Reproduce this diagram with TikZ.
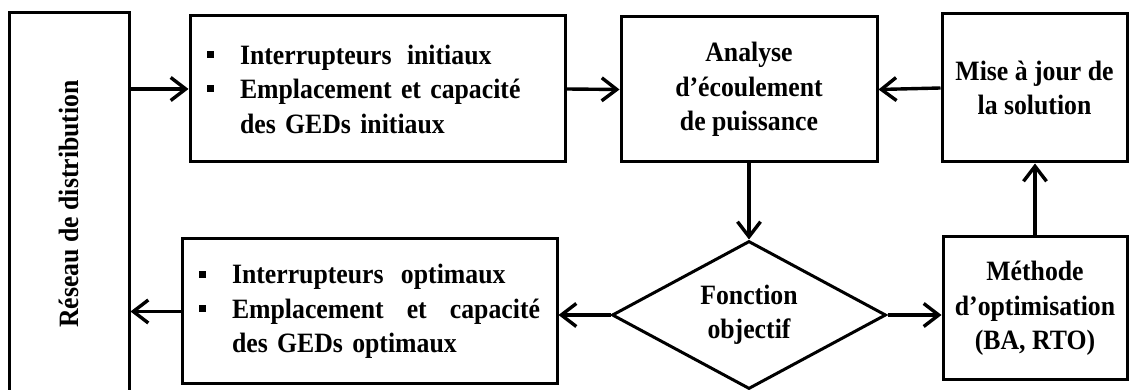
\documentclass[tikz,border=0pt]{standalone}
\usepackage{fontspec}
\setmainfont{Liberation Serif}[FakeStretch=0.92]
\usetikzlibrary{arrows.meta,shapes.geometric}

\newcommand{\sqbul}{\makebox[33pt][l]{\rule[0.22em]{7pt}{7pt}}}

\begin{document}
\begin{tikzpicture}[x=1pt,y=1pt,
  blk/.style={rectangle,draw,line width=3pt,inner sep=0pt,align=center,
              font=\bfseries\fontsize{28}{34.5}\selectfont},
  lst/.style={blk,align=left,inner xsep=17pt},
  dec/.style={diamond,draw,line width=3pt,inner sep=0pt,aspect=1.85,
              minimum width=274pt,minimum height=148pt,align=center,
              font=\bfseries\fontsize{28}{34.5}\selectfont},
  flow/.style={-{Straight Barb[length=15pt,width=23pt]},line width=3.4pt},
]
  \useasboundingbox (0,0) rectangle (1131,390);

  % Network (left column)
  \node[blk,minimum width=120pt,minimum height=382pt] (reseau) at (69,186)
    {\rotatebox{90}{Réseau de distribution}};

  % Top row
  \node[lst,minimum width=375pt,minimum height=146pt,text width=341pt]
    (init) at (377.5,301)
    {\sqbul Interrupteurs\hspace{6pt} initiaux\\
     \sqbul Emplacement et capacité\\
     \hspace*{33pt}des GEDs initiaux};
  \node[blk,minimum width=256pt,minimum height=145pt] (analyse) at (749,300.5)
    {Analyse\\d’écoulement\\de puissance};
  \node[blk,minimum width=185pt,minimum height=148pt] (mise) at (1034.5,302)
    {Mise à jour de\\la solution};

  % Bottom row
  \node[dec] (fonction) at (749,75) {Fonction\\objectif};
  \node[lst,minimum width=375pt,minimum height=145pt,text width=341pt]
    (optim) at (369.5,78.5)
    {\sqbul Interrupteurs\hspace{8pt} optimaux\\
     \sqbul \makebox[308pt][l]{Emplacement\hfill et\hfill capacité}\\
     \hspace*{33pt}des GEDs optimaux};
  \node[blk,minimum width=184pt,minimum height=143pt] (methode) at (1035,81.5)
    {Méthode\\d’optimisation\\(BA, RTO)};

  % Connectors
  \draw[flow] (init.west -| reseau.east) -- (init.west);
  \draw[flow] (init.east) -- (analyse.west);
  \draw[flow] (mise.west) -- (analyse.east);
  \draw[flow] (analyse.south) -- (fonction.north);
  \draw[flow] (fonction.east) -- (fonction.east -| methode.west);
  \draw[flow] (methode.north) -- (methode.north |- mise.south);
  \draw[flow] (fonction.west) -- (fonction.west -| optim.east);
  \draw[flow] (optim.west) -- (optim.west -| reseau.east);
\end{tikzpicture}
\end{document}
